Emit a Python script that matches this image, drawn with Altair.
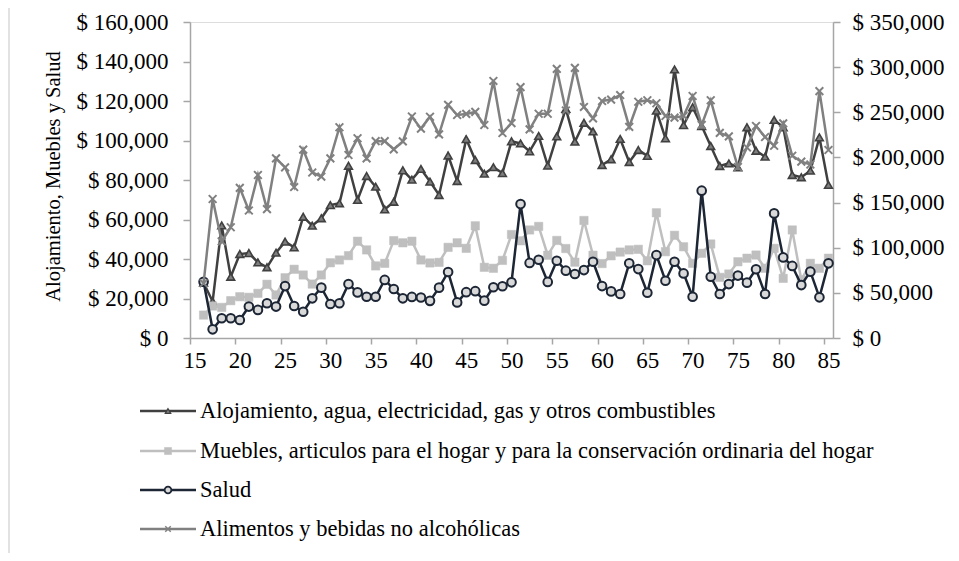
import altair as alt
import pandas as pd

# ---------------- data ----------------
edades = list(range(16, 86))

alojamiento = [28000, 18500, 57000, 31000, 42500, 43000, 38300, 35800, 43200, 48800,
               45900, 61400, 56900, 60600, 67300, 68200, 87200, 69900, 82000, 76600,
               65100, 69000, 84900, 80200, 85600, 79200, 72400, 92400, 79500, 100700,
               90100, 83200, 86500, 83500, 99600, 98500, 94500, 102300, 87300, 102100,
               116000, 99400, 109000, 104600, 87600, 90500, 100800, 89100, 95200, 92200,
               115100, 101100, 136000, 107800, 116800, 107300, 97200, 87100, 88400, 86400,
               106700, 94800, 91800, 110400, 106700, 82500, 81400, 84700, 101600, 77500]

muebles = [11600, 16200, 15500, 18900, 20900, 20600, 22600, 27200, 21800, 30500,
           34800, 31900, 27300, 31900, 38100, 39500, 41700, 49000, 44600, 36500,
           37800, 49300, 48200, 49000, 39500, 38000, 38300, 45900, 48200, 45400,
           56800, 35800, 35300, 39300, 52400, 49200, 54700, 56500, 41900, 49400,
           45300, 38400, 59500, 41900, 37700, 41600, 43500, 44600, 44900, 39100,
           63400, 43700, 52000, 46200, 37800, 42900, 47600, 30700, 32400, 38600,
           40400, 42000, 35300, 45400, 30200, 54700, 29400, 37800, 35300, 40400]

salud = [28500, 4400, 10000, 10000, 9100, 15900, 14200, 17600, 15900, 26300,
         16200, 13300, 20100, 25500, 17200, 17600, 27300, 23100, 20900, 20900,
         29400, 24800, 20100, 20800, 20500, 18800, 25500, 33400, 18000, 23200,
         23700, 18900, 25700, 26200, 28200, 67800, 38000, 39600, 28400, 39100,
         34100, 32400, 34400, 38600, 26300, 23600, 22300, 37800, 34900, 22900,
         42000, 29000, 38600, 32700, 20900, 74600, 31000, 22300, 27300, 31600,
         28000, 34800, 22300, 63100, 40800, 36500, 26800, 33600, 20600, 37800]

alimentos = [60600, 154000, 107000, 122700, 166300, 141200, 180500, 142700, 199000, 189000,
             167200, 208700, 183300, 178700, 199000, 233400, 202700, 221200, 199000, 218000,
             218000, 209000, 217700, 245300, 231900, 245100, 225600, 258300, 247000, 248200,
             250400, 235900, 284700, 227100, 238000, 277800, 231100, 248400, 248400, 298000,
             252000, 299200, 255900, 243300, 262500, 264100, 269100, 233800, 261700, 263300,
             260000, 245900, 244000, 246000, 268000, 236000, 263300, 227200, 223300, 189400,
             211000, 234800, 222600, 212900, 237800, 201900, 195300, 192200, 273400, 208200]

nombres = ["Alojamiento, agua, electricidad, gas y otros combustibles",
           "Muebles, articulos para el hogar y para la conservación ordinaria del hogar",
           "Salud",
           "Alimentos y bebidas no alcohólicas"]

y_ticks_left = list(range(0, 160001, 20000))
y_ticks_right = list(range(0, 350001, 50000))
x_labels = list(range(15, 86, 5))

df = pd.DataFrame({"edad": edades, "aloj": alojamiento, "mueb": muebles,
                   "salud": salud, "alim": alimentos})
one = pd.DataFrame({"k": [0]})

# ---------------- style ----------------
FONT = "Liberation Serif"
FS = 23
FS_LEG = 22.5
W, H = 643, 316
AXC = "#a6a6a6"
XSHAPE = "M-1,-1L1,1M-1,1L1,-1"

C_ALOJ, F_ALOJ = "#404040", "#7f7f7f"
C_MUEB = "#bfbfbf"
C_SAL, F_SAL = "#1d2635", "#d9d9d9"
C_ALIM = "#808080"

x_enc = alt.X("edad:Q", title="",
              scale=alt.Scale(domain=[14.5, 85.5], nice=False, zero=False),
              axis=alt.Axis(values=[v - 0.5 for v in x_labels],
                            labelExpr="format(datum.value + 0.5, 'd')",
                            labelOffset=4.5, labelFont=FONT, labelFontSize=FS,
                            labelColor="black", labelPadding=5, tickSize=6,
                            tickColor=AXC, domainColor=AXC, domainWidth=1.5,
                            tickWidth=1.5, grid=False, labelFlush=False,
                            labelOverlap=False))

left_axis = alt.Axis(values=y_ticks_left,
                     labelExpr="'$ ' + format(datum.value, ',')",
                     labelFont=FONT, labelFontSize=FS, labelColor="black",
                     labelPadding=15, tickSize=7, tickColor=AXC, domainColor=AXC,
                     domainWidth=1.5, tickWidth=1.5, grid=False,
                     title="Alojamiento, Muebles y Salud", titleFont=FONT,
                     titleFontSize=20.5, titleFontWeight="normal", titleColor="black",
                     titleAngle=270, titleX=-137, titleY=154, titleAlign="center",
                     titleBaseline="middle")

right_axis = alt.Axis(orient="right", values=y_ticks_right,
                      labelExpr="'$ ' + format(datum.value, ',')",
                      labelFont=FONT, labelFontSize=FS, labelColor="black",
                      labelPadding=12, tickSize=7, tickColor=AXC, domainColor=AXC,
                      domainWidth=1.5, tickWidth=1.5, grid=False, title="")

y_left_scale = alt.Scale(domain=[0, 160000], nice=False)
y_right_scale = alt.Scale(domain=[0, 350000], nice=False)

base = alt.Chart(df)


def series(field, scale, axis, color, shape, size, fill, stroke, sw, filled=True):
    y = alt.Y(f"{field}:Q", scale=scale, axis=axis)
    line = base.mark_line(color=color, strokeWidth=2.5).encode(x=x_enc, y=y)
    if filled:
        pts = base.mark_point(shape=shape, size=size, filled=True, fill=fill,
                              stroke=stroke, strokeWidth=sw,
                              opacity=1).encode(x=x_enc, y=y)
    else:
        pts = base.mark_point(shape=shape, size=size, filled=False,
                              stroke=stroke, strokeWidth=sw,
                              opacity=1).encode(x=x_enc, y=y)
    return [line, pts]


left_layers = []
left_layers += series("aloj", y_left_scale, left_axis, C_ALOJ, "triangle-up", 60,
                      F_ALOJ, C_ALOJ, 1.6)
left_layers += series("mueb", y_left_scale, left_axis, C_MUEB, "square", 70,
                      C_MUEB, C_MUEB, 0.5)
left_layers += series("salud", y_left_scale, left_axis, C_SAL, "circle", 75,
                      F_SAL, C_SAL, 2)

# ---------------- custom legend (below the chart) ----------------
leg_rows = [389, 429, 468, 507]
leg_style = [
    (C_ALOJ, "triangle-up", 30, F_ALOJ, C_ALOJ, 1.2, True),
    (C_MUEB, "square", 50, C_MUEB, C_MUEB, 0.5, True),
    (C_SAL, "circle", 45, F_SAL, C_SAL, 1.8, True),
    (C_ALIM, XSHAPE, 30, C_ALIM, C_ALIM, 1.5, False),
]
leg_layers = []
for nombre, yy, (col, shp, sz, fil, stc, sw, isfilled) in zip(nombres, leg_rows, leg_style):
    ch = alt.Chart(one)
    leg_layers.append(ch.mark_rule(color=col, strokeWidth=2.5).encode(
        x=alt.value(-50), x2=alt.value(6), y=alt.value(yy)))
    if isfilled:
        leg_layers.append(ch.mark_point(shape=shp, size=sz, filled=True, fill=fil,
                                        stroke=stc, strokeWidth=sw,
                                        opacity=1).encode(
            x=alt.value(-22), y=alt.value(yy)))
    else:
        leg_layers.append(ch.mark_point(shape=shp, size=sz, filled=False,
                                        stroke=stc, strokeWidth=sw,
                                        opacity=1).encode(
            x=alt.value(-22), y=alt.value(yy)))
    leg_layers.append(ch.mark_text(align="left", baseline="middle", font=FONT,
                                   fontSize=FS_LEG, color="black").encode(
        x=alt.value(10), y=alt.value(yy), text=alt.value(nombre)))

# light chart border on the left edge
border = alt.Chart(one).mark_rule(color="#d9d9d9", strokeWidth=1.5).encode(
    x=alt.value(-181), y=alt.value(-14), y2=alt.value(H + 215))

left = alt.layer(*left_layers, *leg_layers, border)

right = alt.layer(*series("alim", y_right_scale, right_axis, C_ALIM, XSHAPE, 60,
                          C_ALIM, C_ALIM, 2, filled=False))

chart = alt.layer(left, right).resolve_scale(y="independent").properties(
    width=W, height=H,
    autosize=alt.AutoSizeParams(type="none"),
    padding={"left": 182, "top": 14, "right": 118, "bottom": 215},
).configure_view(strokeWidth=0).configure(background="white")

chart.save("out.html", embed_options={"renderer": "svg", "actions": False})
